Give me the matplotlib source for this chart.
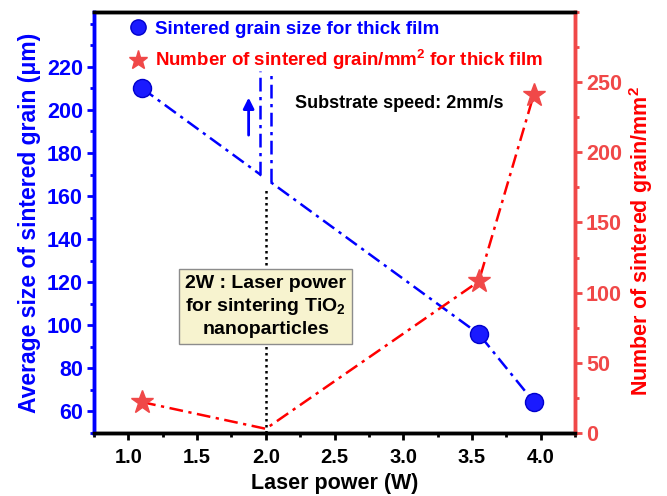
import matplotlib
matplotlib.use("Agg")
import matplotlib.pyplot as plt
from matplotlib.lines import Line2D
from matplotlib.patches import Rectangle
from matplotlib.ticker import MultipleLocator

plt.rcParams['font.family'] = ['Liberation Sans', 'DejaVu Sans']
plt.rcParams['font.weight'] = 'bold'
plt.rcParams['mathtext.fontset'] = 'custom'
plt.rcParams['mathtext.rm'] = 'Liberation Sans:bold'
plt.rcParams['mathtext.bf'] = 'Liberation Sans:bold'
plt.rcParams['mathtext.it'] = 'Liberation Sans:bold'
plt.rcParams['mathtext.default'] = 'bf'

# ---- data ----
size_power = [1.1, 3.55, 3.95]
grain_size = [210, 96, 64.5]
count_power = [1.1, 2.0, 3.55, 3.95]
grain_count = [22, 3, 108, 241]
count_marked = [0, 2, 3]

x_ticks = [1.0, 1.5, 2.0, 2.5, 3.0, 3.5, 4.0]
left_ticks = [60, 80, 100, 120, 140, 160, 180, 200, 220]
right_ticks = [0, 50, 100, 150, 200, 250]

label_size = "Sintered grain size for thick film"
label_count = "Number of sintered grain/mm$^2$ for thick film"
note_text = "2W : Laser power\nfor sintering TiO$_2$\nnanoparticles"
speed_text = "Substrate speed: 2mm/s"

BLUE = '#0000ff'
RED = '#ff0000'
RED_L = '#f04848'
dash = (0, (5.5, 2.2, 1.3, 2.2))
LW = 1.8

fig = plt.figure(figsize=(6.67, 4.96), dpi=100)
ax = fig.add_axes([0.141, 0.127, 0.721, 0.849])
ax2 = ax.twinx()

ax.set_xlim(0.75, 4.25)
ax.set_ylim(50, 245.5)
ax2.set_ylim(0, 300)

# blue series
ax.plot(size_power, grain_size, color=BLUE, lw=LW, linestyle=dash,
        marker='o', markersize=13, markerfacecolor='#1a1aff',
        markeredgecolor='#0000cc', zorder=3)
# gap in the blue line at the 2 W break
ax.add_patch(Rectangle((1.966, 164.8), 0.068, 8, facecolor='white',
                       edgecolor='none', zorder=4))
# break marks
ax.plot([1.96, 1.96], [169.8, 218], color=BLUE, lw=LW, linestyle=dash, zorder=5)
ax.plot([2.04, 2.04], [166.6, 218], color=BLUE, lw=LW, linestyle=dash, zorder=5)
# 2 W reference line
ax.plot([2.0, 2.0], [50, 164.2], color='black', lw=1.8, linestyle=(0, (1, 1.4)), zorder=2)
# arrow
ax.annotate('', xy=(1.875, 207), xytext=(1.875, 187),
            arrowprops=dict(arrowstyle='-|>', color=BLUE, lw=2, mutation_scale=16))

# red series
ax2.plot(count_power, grain_count, color=RED, lw=LW, linestyle=dash,
         marker='*', markersize=17, markevery=count_marked,
         markerfacecolor=RED_L, markeredgecolor=RED_L, zorder=3)

# annotations
ax.text(2.0, 108.8, note_text, ha='center', va='center', multialignment='center',
        fontsize=14, fontweight='bold', linespacing=1.28, zorder=6,
        bbox=dict(boxstyle='square,pad=0.3', facecolor='#f7f3cf', edgecolor='#8c8c8c', lw=1))
ax.text(2.21, 202.8, speed_text, ha='left', va='center', fontsize=13,
        fontweight='bold', color='black')

# axes styling
for s in ['left', 'right', 'top', 'bottom']:
    ax.spines[s].set_linewidth(2.5)
    ax2.spines[s].set_linewidth(2.5)
ax.spines['left'].set_color(BLUE)
ax2.spines['left'].set_color(BLUE)
ax.spines['bottom'].set_color('black')
ax2.spines['right'].set_color(RED_L)
ax.spines['right'].set_color(RED_L)
ax.spines['top'].set_color('black')
ax2.spines['top'].set_color('black')

ax.set_xticks(x_ticks)
ax.set_xticklabels([f"{v:.1f}" for v in x_ticks])
ax.xaxis.set_minor_locator(MultipleLocator(0.25))
ax.set_yticks(left_ticks)
ax.set_yticklabels([str(v) for v in left_ticks])
ax.yaxis.set_minor_locator(MultipleLocator(10))
ax2.set_yticks(right_ticks)
ax2.set_yticklabels([str(v) for v in right_ticks])
ax2.yaxis.set_minor_locator(MultipleLocator(25))

ax.tick_params(axis='x', which='major', direction='out', length=5, width=2,
               labelsize=14.5, colors='black', pad=6)
ax.tick_params(axis='x', which='minor', direction='out', length=3, width=2, colors='black')
ax.tick_params(axis='y', which='major', direction='out', length=5, width=2,
               labelsize=15.5, colors=BLUE, pad=3)
ax.tick_params(axis='y', which='minor', direction='out', length=3, width=2, colors=BLUE)
ax2.tick_params(axis='y', which='major', direction='out', length=5, width=2,
                labelsize=15.5, colors=RED_L, pad=3)
ax2.tick_params(axis='y', which='minor', direction='out', length=3, width=2, colors=RED_L)
for lab in ax.get_xticklabels() + ax.get_yticklabels() + ax2.get_yticklabels():
    lab.set_fontweight('bold')

ax.set_xlabel("Laser power (W)", fontsize=15.5, fontweight='bold', color='black', labelpad=4)
ax.set_ylabel("Average size of sintered grain (μm)", fontsize=16.5, fontweight='bold',
              color=BLUE, labelpad=4)
ax2.set_ylabel("Number of sintered grain/mm$^2$", fontsize=15.5, fontweight='bold',
               color=RED)
ax2.yaxis.set_label_coords(1.108, 0.455)

# legend
h1 = Line2D([], [], linestyle='none', marker='o', markersize=11,
            markerfacecolor='#1a1aff', markeredgecolor='#0000cc')
h2 = Line2D([], [], linestyle='none', marker='*', markersize=14,
            markerfacecolor=RED_L, markeredgecolor=RED_L)
leg = ax2.legend([h1, h2], [label_size, label_count], loc='upper left',
                 bbox_to_anchor=(0.04, 1.01), frameon=False,
                 prop={'weight': 'bold', 'size': 13.5}, labelcolor=[BLUE, RED],
                 handletextpad=0.3, labelspacing=0.55, handlelength=1.2,
                 borderpad=0.2)

fig.savefig("out.png", dpi=100)
